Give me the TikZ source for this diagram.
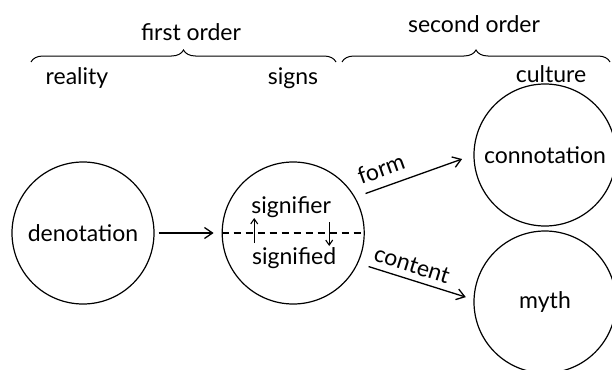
\documentclass[tikz,border=0pt]{standalone}
\usepackage{fontspec}
\setmainfont{Lato}
\usepackage{tikz}
\tikzset{
    disc/.style={draw, circle, line width=1.2pt, minimum size=142pt, inner sep=0pt},
    term/.style={font=\fontsize{23}{27}\selectfont, inner sep=0pt},
    bracket/.style={decorate, decoration={brace, amplitude=12pt}, line width=1pt},
    link/.style = {-{Straight Barb[length=8pt, width=11pt]}, line width=1.3pt},
    cutline/.style = {dash pattern=on 7pt off 5pt, line width=1.2pt},
    exchange/.style = {-{Straight Barb[length=5pt, width=7pt]}, line width=1.1pt} }
\usetikzlibrary{arrows.meta, calc, positioning, decorations.pathreplacing}

\begin{document}
\begin{tikzpicture}[x=1pt, y=-1pt, node distance=67pt]
      \useasboundingbox (0,0) rectangle (612,369);
      \node[disc, term] (den) at (83,233) {denotation};
      \node[disc, right = of den] (sig) {};
      \node[disc, term] (conn) at (545,155) {connotation};
      \node[disc, term] (myth) at (545,302) {myth};
      \node[term] (sr) at ($(sig)+(-2,-26)$) {signifier};
      \node[term] (sd) at ($(sig)+(1,25)$) {signified};
      % ----
      \node[term, anchor=base] (fo) at (191,41) {first order};
      \node[term, anchor=base] (so) at (474,33) {second order};
      \node[term, anchor=base] (real) at (77,84) {reality};
      \node[term, anchor=base] (signs) at (293,84) {signs};
      \node[term, anchor=base] (cult) at (551,82) {culture};
      \draw[bracket] (31,62) -- (336,62);
      \draw[bracket] (342,62) -- (610,62);
      % ----
      \draw[link, shorten <=4pt, shorten >=8pt] (den) -- (sig);
      \draw[link, shorten <=11pt, shorten >=12pt] (sig.30) --
          node[term, sloped, above=9pt, pos=0.27] (form) {form} (conn.180);
      \draw[link, shorten <=11pt, shorten >=8pt] (sig.-25) --
          node[term, sloped, above=6pt, pos=0.43] (cont) {content} (myth.178);
      % ----
      \draw[cutline] (sig.west) -- (sig.east);
      \coordinate (u1) at ($(sig)+(-39,10)$);
      \coordinate (u2) at ($(sig)+(-39,-15)$);
      \coordinate (d1) at ($(sig)+(36,-11)$);
      \coordinate (d2) at ($(sig)+(36,13)$);
      \draw[exchange] (u1) -- (u2);
      \draw[exchange] (d1) -- (d2);
\end{tikzpicture}
\end{document}
